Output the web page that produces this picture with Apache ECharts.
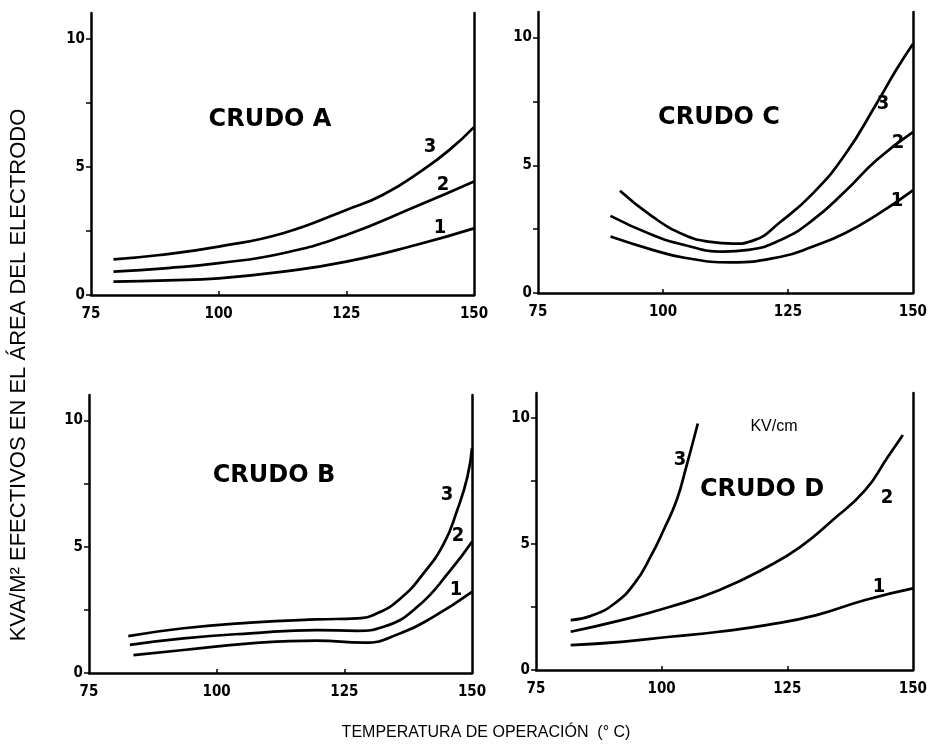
<!DOCTYPE html>
<html>
<head>
<meta charset="utf-8">
<script src="https://cdn.jsdelivr.net/npm/echarts@6/dist/echarts.min.js"></script>
<style>html,body{margin:0;padding:0;background:#fff}#c{width:930px;height:747px}</style>
</head>
<body>
<div id="c"></div>
<script>
// ---- data (temperature °C, kVA/m²) ----
var panelTitles = ['CRUDO A', 'CRUDO C', 'CRUDO B', 'CRUDO D'];
var curveNames = ['1', '2', '3'];
var xTickLabels = [75, 100, 125, 150];
var yTickLabels = [0, 5, 10];

var crudoA_1 = [[79.4,0.52],[90,0.57],[100,0.65],[112.6,0.91],[125,1.30],[138.6,1.95],[150,2.6]];
var crudoA_2 = [[79.4,0.91],[90,1.05],[100,1.24],[112.6,1.63],[125,2.34],[138.6,3.45],[150,4.43]];
var crudoA_3 = [[79.4,1.39],[88,1.55],[100,1.89],[112.6,2.41],[125,3.32],[132.1,3.9],[140,4.88],[145.2,5.66],[150,6.55]];

var crudoC_1 = [[89.5,2.21],[97.9,1.69],[104.3,1.38],[113.5,1.2],[123.6,1.42],[130,1.82],[136.4,2.34],[142.8,3.06],[150,4.02]];
var crudoC_2 = [[89.5,3.02],[97.9,2.27],[104.3,1.88],[112,1.62],[117.1,1.69],[123.6,2.08],[130,2.86],[136.4,3.97],[142.8,5.22],[150,6.3]];
var crudoC_3 = [[91.4,4.0],[97.9,2.99],[104.3,2.27],[109.5,2.0],[114,1.93],[118,2.05],[123.6,2.8],[130,3.9],[136.4,5.41],[142.8,7.44],[146.7,8.75],[150,9.75]];

var crudoB_1 = [[83.7,0.71],[93.5,0.91],[106.6,1.17],[119.6,1.28],[128.8,1.20],[136,1.57],[142.5,2.23],[150,3.21]];
var crudoB_2 = [[83,1.11],[93.5,1.37],[106.6,1.57],[119.6,1.70],[127.5,1.67],[132.7,1.83],[139.3,2.62],[145.8,4.07],[150,5.19]];
var crudoB_3 = [[82.7,1.46],[93.5,1.77],[106.6,1.99],[119.6,2.12],[127.5,2.16],[131.4,2.36],[136,2.95],[140.5,3.94],[144.5,5.13],[147.1,6.44],[149.1,7.76],[150,8.9]];

var crudoD_1 = [[81.9,0.99],[92,1.12],[101.7,1.32],[111.4,1.52],[121.1,1.79],[130.8,2.18],[140.5,2.78],[150,3.24]];
var crudoD_2 = [[81.9,1.52],[92,1.98],[101.7,2.51],[111.4,3.17],[121.1,4.10],[127.6,4.89],[134,5.95],[140.5,7.14],[145,8.46],[148,9.33]];
var crudoD_3 = [[81.9,1.98],[86,2.15],[90.7,2.65],[94.6,3.44],[97.8,4.5],[100.4,5.56],[103,6.75],[104.9,8.07],[107.2,9.79]];

var panelSeries = [
  [crudoA_1, crudoA_2, crudoA_3],
  [crudoC_1, crudoC_2, crudoC_3],
  [crudoB_1, crudoB_2, crudoB_3],
  [crudoD_1, crudoD_2, crudoD_3]
];

// ---- layout ----
var grids = [
  {left: 91, top: 13, width: 383, height: 282},
  {left: 538, top: 12, width: 389, height: 281},
  {left: 89, top: 395, width: 383, height: 278},
  {left: 536, top: 393, width: 386, height: 277}
];
// curve label positions (pixels) per panel, for curves 1,2,3
var curveLabelPos = [
  [[440,228],[443,185],[430,147]],
  [[897,201],[898,143],[883,104]],
  [[456,590],[458,536],[447,495]],
  [[879,587],[887,498],[680,460]]
];
var titlePos = [[270,120],[719,118],[274,476],[762,490]];

var tickFont = '"DejaVu Sans Condensed","DejaVu Sans",sans-serif';
var xAxes = [], yAxes = [], series = [], graphics = [];
grids.forEach(function (g, i) {
  xAxes.push({
    type: 'value', gridIndex: i, min: 75, max: 150,
    axisLine: {show: true, lineStyle: {color: '#000', width: 2.5}},
    axisTick: {show: true, inside: true, length: 4, customValues: [100, 125], lineStyle: {color: '#000', width: 1.5}},
    axisLabel: {customValues: xTickLabels, color: '#000', fontFamily: tickFont, fontWeight: 'bold', fontSize: 15, margin: 12},
    splitLine: {show: false}
  });
  yAxes.push({
    type: 'value', gridIndex: i, min: 0, max: 11, position: 'left',
    axisLine: {show: true, lineStyle: {color: '#000', width: 2.5}},
    axisTick: {show: true, length: 5, customValues: [0, 2.5, 5, 7.5, 10], lineStyle: {color: '#000', width: 1.5}},
    axisLabel: {customValues: yTickLabels, color: '#000', fontFamily: tickFont, fontWeight: 'bold', fontSize: 15, margin: 6},
    splitLine: {show: false}
  });
  yAxes.push({
    type: 'value', gridIndex: i, min: 0, max: 11, position: 'right',
    axisLine: {show: true, lineStyle: {color: '#000', width: 2.5}},
    axisTick: {show: false}, axisLabel: {show: false}, splitLine: {show: false}
  });
  panelSeries[i].forEach(function (d, k) {
    series.push({
      type: 'line', name: panelTitles[i] + ' ' + curveNames[k],
      xAxisIndex: i, yAxisIndex: 2 * i, data: d,
      smooth: 0.5, showSymbol: false, symbol: 'none',
      lineStyle: {color: '#000', width: 2.7}, clip: true, silent: true
    });
    graphics.push({
      type: 'text', x: curveLabelPos[i][k][0], y: curveLabelPos[i][k][1],
      style: {text: curveNames[k], fill: '#000', font: 'bold 20px "DejaVu Sans Condensed","DejaVu Sans",sans-serif', textAlign: 'center', textVerticalAlign: 'middle'}
    });
  });
  graphics.push({
    type: 'text', x: titlePos[i][0], y: titlePos[i][1],
    style: {text: panelTitles[i], fill: '#000', font: 'bold 24px "DejaVu Sans",sans-serif', textAlign: 'center', textVerticalAlign: 'middle'}
  });
});
graphics.push({
  type: 'text', x: 774, y: 427,
  style: {text: 'KV/cm', fill: '#000', font: '16px "Liberation Sans",Arial,sans-serif', textAlign: 'center', textVerticalAlign: 'middle'}
});
graphics.push({
  type: 'text', x: 486, y: 733,
  style: {text: 'TEMPERATURA DE OPERACIÓN  (° C)', fill: '#000', font: '16px "Liberation Sans",Arial,sans-serif', textAlign: 'center', textVerticalAlign: 'middle'}
});
graphics.push({
  type: 'text', x: 19, y: 375, rotation: Math.PI / 2,
  style: {text: 'KVA/M² EFECTIVOS EN EL ÁREA DEL ELECTRODO', fill: '#000', font: '22px "Liberation Sans",Arial,sans-serif', textAlign: 'center', textVerticalAlign: 'middle'}
});

var chart = echarts.init(document.getElementById('c'), null, {renderer: 'canvas'});
chart.setOption({
  animation: false,
  backgroundColor: '#fff',
  grid: grids,
  xAxis: xAxes,
  yAxis: yAxes,
  series: series,
  graphic: graphics
});
</script>
</body>
</html>
